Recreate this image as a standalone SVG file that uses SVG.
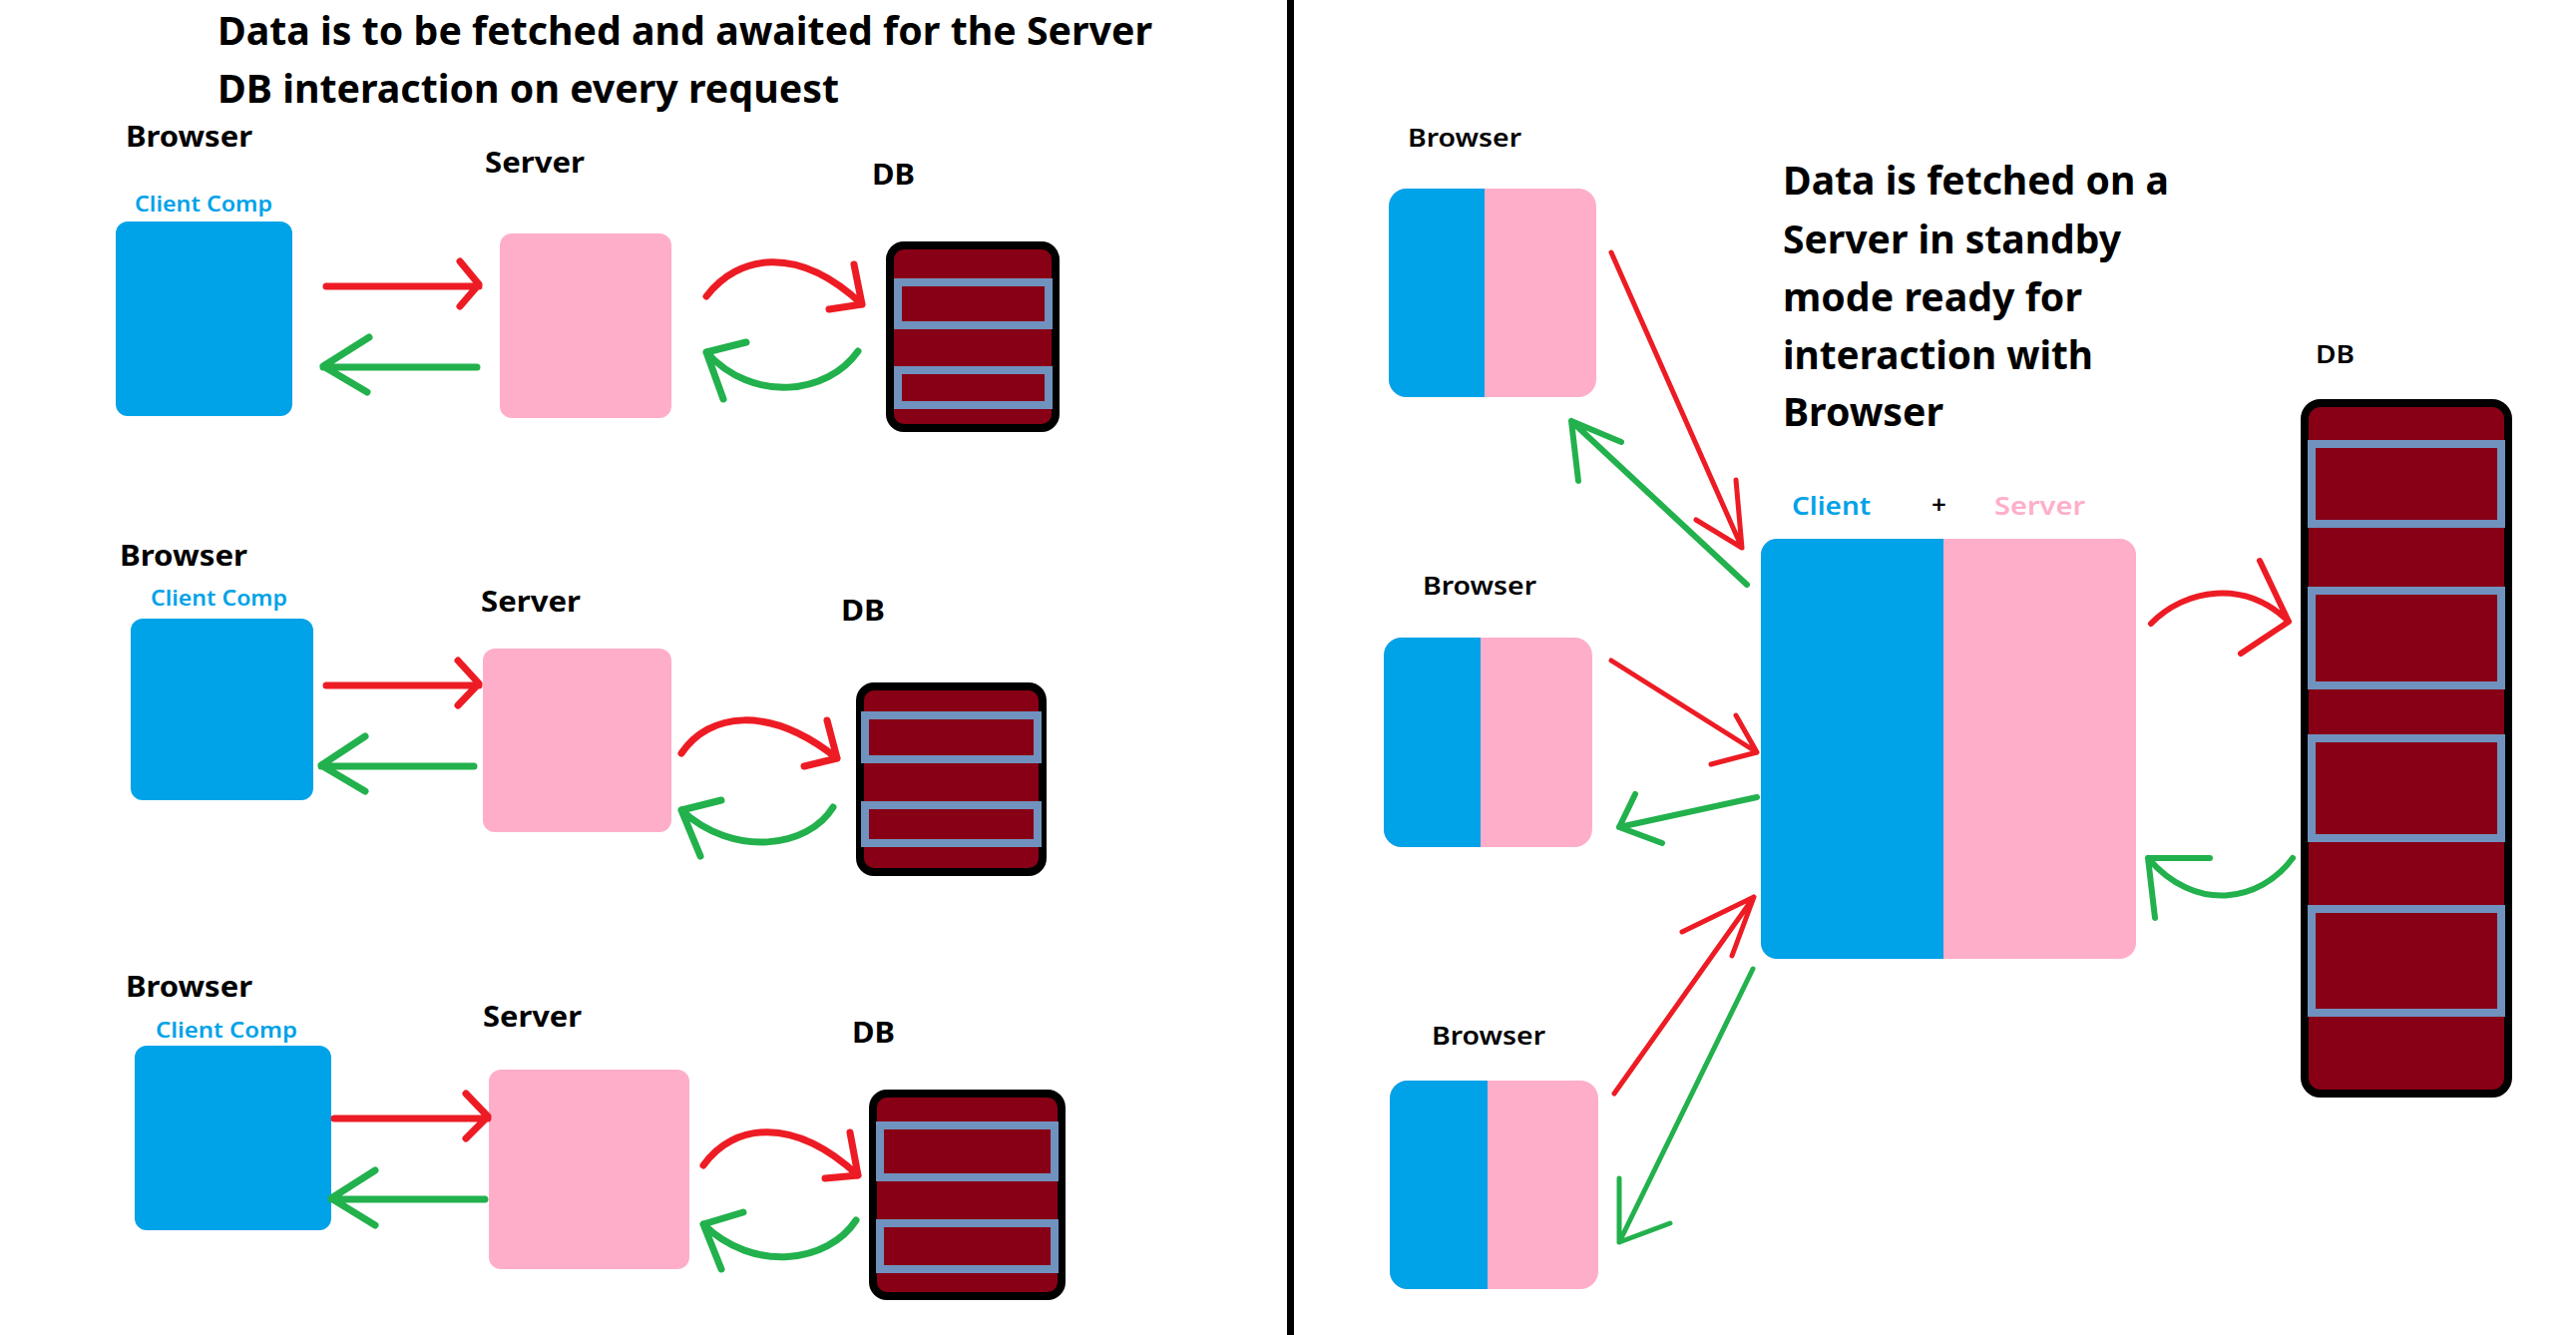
<svg xmlns="http://www.w3.org/2000/svg" width="2582" height="1338" viewBox="0 0 2582 1338">
<defs>
<style>
.t{font-family:"Noto Sans","Open Sans","Liberation Sans",sans-serif;font-weight:700;fill:#000}
.title{font-size:39px}
.lbl{font-size:28px}
.rl{font-size:26px;font-weight:600}
.cc{font-size:22px;fill:#00A2E8;font-weight:600}
.blue{fill:#00A2E8}
.pink{fill:#FFAEC9}
.db{fill:#880015;stroke:#000;stroke-width:8}
.st{fill:#880015;stroke:#7092BE;stroke-width:8}
.r{fill:none;stroke:#ED1C24;stroke-linecap:round;stroke-linejoin:round}
.g{fill:none;stroke:#22B14C;stroke-linecap:round;stroke-linejoin:round}
.w7{stroke-width:7}
.w5{stroke-width:5}
.w6{stroke-width:6}
</style>
</defs>
<rect x="0" y="0" width="2582" height="1338" fill="#fff"/>
<rect id="divider" x="1290" y="0" width="7" height="1338" fill="#000"/>

<g id="title-left">
<text class="t title" x="218" y="45" textLength="937" lengthAdjust="spacingAndGlyphs">Data is to be fetched and awaited for the Server</text>
<text class="t title" x="218" y="103" textLength="623" lengthAdjust="spacingAndGlyphs">DB interaction on every request</text>
</g>

<!-- Panel 1 -->
<g id="browser1">
<text class="t lbl" x="126" y="147" textLength="127" lengthAdjust="spacingAndGlyphs">Browser</text>
<text class="t cc" x="135" y="212" textLength="138" lengthAdjust="spacingAndGlyphs">Client Comp</text>
<rect class="blue" x="116" y="222" width="177" height="195" rx="12"/>
</g>
<g id="server1">
<text class="t lbl" x="486" y="173" textLength="100" lengthAdjust="spacingAndGlyphs">Server</text>
<rect class="pink" x="501" y="234" width="172" height="185" rx="12"/>
</g>
<g id="db1">
<text class="t lbl" x="874" y="185" textLength="43" lengthAdjust="spacingAndGlyphs">DB</text>
<rect class="db" x="892" y="246" width="166" height="183" rx="14"/>
<rect class="st" x="900" y="283" width="151" height="43"/>
<rect class="st" x="900" y="371" width="151" height="35"/>
</g>

<!-- Panel 2 -->
<g id="browser2">
<text class="t lbl" x="120" y="567" textLength="128" lengthAdjust="spacingAndGlyphs">Browser</text>
<text class="t cc" x="151" y="607" textLength="137" lengthAdjust="spacingAndGlyphs">Client Comp</text>
<rect class="blue" x="131" y="620" width="183" height="182" rx="12"/>
</g>
<g id="server2">
<text class="t lbl" x="482" y="613" textLength="100" lengthAdjust="spacingAndGlyphs">Server</text>
<rect class="pink" x="484" y="650" width="189" height="184" rx="12"/>
</g>
<g id="db2">
<text class="t lbl" x="843" y="622" textLength="44" lengthAdjust="spacingAndGlyphs">DB</text>
<rect class="db" x="862" y="688" width="183" height="186" rx="14"/>
<rect class="st" x="867" y="717" width="173" height="44"/>
<rect class="st" x="867" y="807" width="173" height="38"/>
</g>

<!-- Panel 3 -->
<g id="browser3">
<text class="t lbl" x="126" y="999" textLength="127" lengthAdjust="spacingAndGlyphs">Browser</text>
<text class="t cc" x="156" y="1040" textLength="142" lengthAdjust="spacingAndGlyphs">Client Comp</text>
<rect class="blue" x="135" y="1048" width="197" height="185" rx="12"/>
</g>
<g id="server3">
<text class="t lbl" x="484" y="1029" textLength="99" lengthAdjust="spacingAndGlyphs">Server</text>
<rect class="pink" x="490" y="1072" width="201" height="200" rx="12"/>
</g>
<g id="db3">
<text class="t lbl" x="854" y="1045" textLength="43" lengthAdjust="spacingAndGlyphs">DB</text>
<rect class="db" x="875" y="1096" width="189" height="203" rx="14"/>
<rect class="st" x="882" y="1128" width="175" height="52"/>
<rect class="st" x="882" y="1226" width="175" height="46"/>
</g>

<!-- Right panel -->
<g id="title-right">
<text class="t title" x="1787" y="195" textLength="387" lengthAdjust="spacingAndGlyphs">Data is fetched on a</text>
<text class="t title" x="1787" y="254" textLength="339" lengthAdjust="spacingAndGlyphs">Server in standby</text>
<text class="t title" x="1787" y="312" textLength="300" lengthAdjust="spacingAndGlyphs">mode ready for</text>
<text class="t title" x="1787" y="370" textLength="311" lengthAdjust="spacingAndGlyphs">interaction with</text>
<text class="t title" x="1787" y="427" textLength="161" lengthAdjust="spacingAndGlyphs">Browser</text>
</g>

<g id="rbrowser1">
<text class="t rl" x="1411" y="147" textLength="114" lengthAdjust="spacingAndGlyphs">Browser</text>
<rect class="pink" x="1392" y="189" width="208" height="209" rx="18"/>
<rect class="blue" x="1392" y="189" width="96" height="209" rx="18"/>
<rect class="blue" x="1460" y="189" width="28" height="209"/>
</g>
<g id="rbrowser2">
<text class="t rl" x="1426" y="596" textLength="114" lengthAdjust="spacingAndGlyphs">Browser</text>
<rect class="pink" x="1387" y="639" width="209" height="210" rx="18"/>
<rect class="blue" x="1387" y="639" width="97" height="210" rx="18"/>
<rect class="blue" x="1456" y="639" width="28" height="210"/>
</g>
<g id="rbrowser3">
<text class="t rl" x="1435" y="1047" textLength="114" lengthAdjust="spacingAndGlyphs">Browser</text>
<rect class="pink" x="1393" y="1083" width="209" height="209" rx="18"/>
<rect class="blue" x="1393" y="1083" width="98" height="209" rx="18"/>
<rect class="blue" x="1463" y="1083" width="28" height="209"/>
</g>

<g id="client-server">
<text class="t rl" x="1796" y="516" textLength="79" lengthAdjust="spacingAndGlyphs" style="fill:#00A2E8">Client</text>
<text class="t rl" x="1936" y="515">+</text>
<text class="t rl" x="1999" y="516" textLength="91" lengthAdjust="spacingAndGlyphs" style="fill:#FFAEC9">Server</text>
<rect class="pink" x="1765" y="540" width="376" height="421" rx="16"/>
<rect class="blue" x="1765" y="540" width="183" height="421" rx="16"/>
<rect class="blue" x="1920" y="540" width="28" height="421"/>
</g>

<g id="rdb">
<text class="t rl" x="2321" y="364" textLength="39" lengthAdjust="spacingAndGlyphs">DB</text>
<rect class="db" x="2310" y="404" width="204" height="692" rx="16"/>
<rect class="st" x="2317" y="445" width="190" height="80"/>
<rect class="st" x="2317" y="592" width="190" height="95"/>
<rect class="st" x="2317" y="740" width="190" height="100"/>
<rect class="st" x="2317" y="911" width="190" height="104"/>
</g>

<g id="connectors">
<!-- panel 1 -->
<path class="r w7" d="M327,287 L480,287 M461,262 L480,285 L461,307"/>
<path class="g w7" d="M478,368 L324,368 M370,338 L324,367 L368,393"/>
<path class="r w7" d="M708,297 C740,255 800,245 864,305 M856,265 L864,305 L831,310"/>
<path class="g w7" d="M860,352 C830,395 755,405 708,353 M748,343 L708,353 L725,400"/>
<!-- panel 2 -->
<path class="r w7" d="M327,687 L480,687 M459,662 L480,685 L459,707"/>
<path class="g w7" d="M475,768 L322,768 M366,738 L322,767 L366,793"/>
<path class="r w7" d="M683,755 C710,715 770,705 839,760 M829,722 L839,760 L806,768"/>
<path class="g w7" d="M835,809 C810,850 735,860 683,812 M723,802 L683,812 L702,858"/>
<!-- panel 3 -->
<path class="r w7" d="M335,1121 L489,1121 M467,1096 L489,1119 L467,1141"/>
<path class="g w7" d="M486,1202 L332,1202 M376,1173 L332,1201 L376,1228"/>
<path class="r w7" d="M705,1168 C735,1126 795,1118 860,1178 M852,1135 L860,1178 L827,1181"/>
<path class="g w7" d="M858,1223 C830,1266 755,1276 705,1227 M745,1215 L705,1227 L723,1272"/>
<!-- right panel -->
<path class="r w5" d="M1615,253 L1746,549 M1740,481 L1746,549 L1700,521"/>
<path class="g w6" d="M1751,586 L1575,422 M1582,482 L1575,422 L1625,443"/>
<path class="r w5" d="M1615,662 L1761,754 M1740,717 L1761,754 L1715,766"/>
<path class="g w6" d="M1761,799 L1623,829 M1639,796 L1623,829 L1666,845"/>
<path class="r w5" d="M1618,1096 L1758,899 M1686,934 L1758,899 L1736,958"/>
<path class="g w5" d="M1757,971 L1623,1245 M1623,1181 L1623,1245 L1674,1226"/>
<path class="r w6" d="M2156,625 C2190,590 2250,580 2294,623 M2265,562 L2294,623 L2246,655"/>
<path class="g w6" d="M2298,860 C2265,905 2200,915 2153,860 M2215,860 L2153,860 L2160,920"/>
</g>
</svg>
